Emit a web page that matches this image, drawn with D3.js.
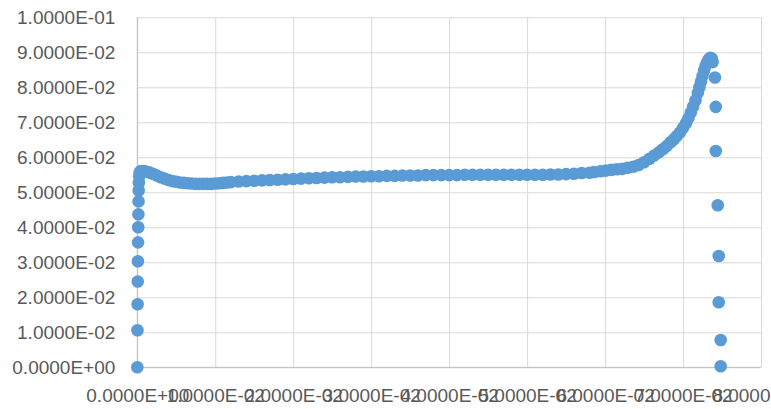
<!DOCTYPE html>
<html>
<head>
<meta charset="utf-8">
<script src="https://cdn.jsdelivr.net/npm/d3@7"></script>
<style>
  html, body { margin: 0; padding: 0; background: #ffffff; }
  svg { display: block; }
  .tick-label { font-family: "Liberation Sans", Arial, sans-serif; font-size: 19px; fill: #595959; }
</style>
</head>
<body>
<svg id="chart" width="771" height="409"></svg>
<script>
// Sample positions (x) and the measured quantity (y)
const xValues = [
  0, 0.00002, 0.00004, 0.00006, 0.00008, 0.0001, 0.00012, 0.00014, 0.00016, 0.00018,
  0.0002, 0.00025, 0.0003, 0.0004, 0.0006, 0.0008, 0.001, 0.0015, 0.002, 0.0025,
  0.003, 0.0035, 0.004, 0.0045, 0.005, 0.0055, 0.006, 0.0065, 0.007, 0.0075,
  0.008, 0.0085, 0.009, 0.0095, 0.010, 0.0105, 0.011, 0.0115, 0.012,
  0.013, 0.014, 0.015, 0.016, 0.017, 0.018, 0.019, 0.020, 0.021, 0.022,
  0.023, 0.024, 0.025, 0.026, 0.027, 0.028, 0.029, 0.030, 0.031, 0.032,
  0.033, 0.034, 0.035, 0.036, 0.037, 0.038, 0.039, 0.040, 0.041, 0.042,
  0.043, 0.044, 0.045, 0.046, 0.047, 0.048, 0.049, 0.050, 0.051, 0.052,
  0.053, 0.054, 0.055, 0.056, 0.057, 0.058,
  0.0586, 0.0594, 0.0601, 0.0608, 0.0615, 0.0622, 0.0629, 0.0636, 0.0643, 0.0650,
  0.0657, 0.0663, 0.0669, 0.0674, 0.0679, 0.0684, 0.0688, 0.0692, 0.0696, 0.0700,
  0.0704, 0.0707, 0.0710, 0.0713, 0.0716, 0.0719, 0.0721, 0.0723, 0.0725, 0.0727,
  0.0729, 0.0731, 0.0733, 0.0735, 0.0737, 0.0738, 0.0741, 0.0742, 0.0742, 0.07445,
  0.07458, 0.07458, 0.07483, 0.07483
];
const yValues = [
  0, 0.0106, 0.0180, 0.0245, 0.0303, 0.0357, 0.0400, 0.0437, 0.0474, 0.0505,
  0.0527, 0.0545, 0.0555, 0.0560, 0.0561, 0.0561, 0.0560, 0.0557, 0.0553, 0.0548,
  0.0543, 0.0539, 0.0535, 0.0532, 0.0530, 0.0528, 0.0527, 0.0526, 0.0525, 0.0524,
  0.0524, 0.0524, 0.0524, 0.0524, 0.0525, 0.0526, 0.0527, 0.0528, 0.0529,
  0.0531, 0.0532, 0.0533, 0.0534, 0.0535, 0.0536, 0.0537, 0.0538, 0.0539, 0.0540,
  0.0541, 0.0542, 0.0543, 0.0543, 0.0544, 0.0545, 0.0545, 0.0546, 0.0546, 0.0547,
  0.0547, 0.0548, 0.0548, 0.0548, 0.0549, 0.0549, 0.0549, 0.0549, 0.0549, 0.0550,
  0.0550, 0.0550, 0.0550, 0.0550, 0.0550, 0.0550, 0.0550, 0.0550, 0.0550, 0.0550,
  0.0551, 0.0551, 0.0552, 0.0553, 0.0555, 0.0556,
  0.0558, 0.0560, 0.0562, 0.0564, 0.0566, 0.0567, 0.0570, 0.0573, 0.0578, 0.0586,
  0.0596, 0.0605, 0.0614, 0.0623, 0.0632, 0.0643, 0.0651, 0.0661, 0.0671, 0.0684,
  0.0698, 0.0712, 0.0728, 0.0745, 0.0763, 0.0784, 0.0800, 0.0816, 0.0832, 0.0848,
  0.0862, 0.0872, 0.0880, 0.0884, 0.0882, 0.0872, 0.0828, 0.0744, 0.0618, 0.0463,
  0.0318, 0.0186, 0.0078, 0.0003
];

// Axis ticks and their labels
const xTicks = [0, 0.01, 0.02, 0.03, 0.04, 0.05, 0.06, 0.07, 0.08];
const xTickLabels = ["0.0000E+00", "1.0000E-02", "2.0000E-02", "3.0000E-02", "4.0000E-02",
                     "5.0000E-02", "6.0000E-02", "7.0000E-02", "8.0000E-02"];
const yTicks = [0, 0.01, 0.02, 0.03, 0.04, 0.05, 0.06, 0.07, 0.08, 0.09, 0.1];
const yTickLabels = ["0.0000E+00", "1.0000E-02", "2.0000E-02", "3.0000E-02", "4.0000E-02",
                     "5.0000E-02", "6.0000E-02", "7.0000E-02", "8.0000E-02", "9.0000E-02",
                     "1.0000E-01"];

const points = xValues.map((x, i) => ({ x, y: yValues[i] }));

const svg = d3.select("#chart");
const plot = { left: 137.3, right: 761, top: 17.3, bottom: 367.3 };

const x = d3.scaleLinear().domain([0, 0.08]).range([plot.left, plot.right]);
const y = d3.scaleLinear().domain([0, 0.1]).range([plot.bottom, plot.top]);

// Horizontal gridlines with labels
const yAxis = d3.axisLeft(y)
  .tickValues(yTicks)
  .tickSize(-(plot.right - plot.left))
  .tickPadding(22)
  .tickFormat((d, i) => yTickLabels[i]);

const gy = svg.append("g")
  .attr("transform", `translate(${plot.left},0)`)
  .call(yAxis);
gy.select(".domain").remove();
gy.selectAll(".tick line").attr("stroke", "#d9d9d9").attr("stroke-width", 1);
gy.selectAll(".tick text").attr("class", "tick-label").attr("dy", "0.35em");

// Vertical gridlines with labels
const xAxis = d3.axisBottom(x)
  .tickValues(xTicks)
  .tickSize(-(plot.bottom - plot.top))
  .tickPadding(21)
  .tickFormat((d, i) => xTickLabels[i]);

const gx = svg.append("g")
  .attr("transform", `translate(0,${plot.bottom})`)
  .call(xAxis);
gx.select(".domain").remove();
gx.selectAll(".tick line").attr("stroke", "#d9d9d9").attr("stroke-width", 1);
gx.selectAll(".tick text").attr("class", "tick-label");

// Axis lines
svg.append("line")
  .attr("x1", x(0)).attr("x2", x(0))
  .attr("y1", y(0)).attr("y2", y(0.1))
  .attr("stroke", "#bfbfbf").attr("stroke-width", 1);
svg.append("line")
  .attr("x1", x(0)).attr("x2", x(0.08))
  .attr("y1", y(0)).attr("y2", y(0))
  .attr("stroke", "#bfbfbf").attr("stroke-width", 1);

// Markers
svg.append("g")
  .selectAll("circle")
  .data(points)
  .join("circle")
  .attr("cx", d => x(d.x))
  .attr("cy", d => y(d.y))
  .attr("r", 6.3)
  .attr("fill", "#5b9bd5");
</script>
</body>
</html>
